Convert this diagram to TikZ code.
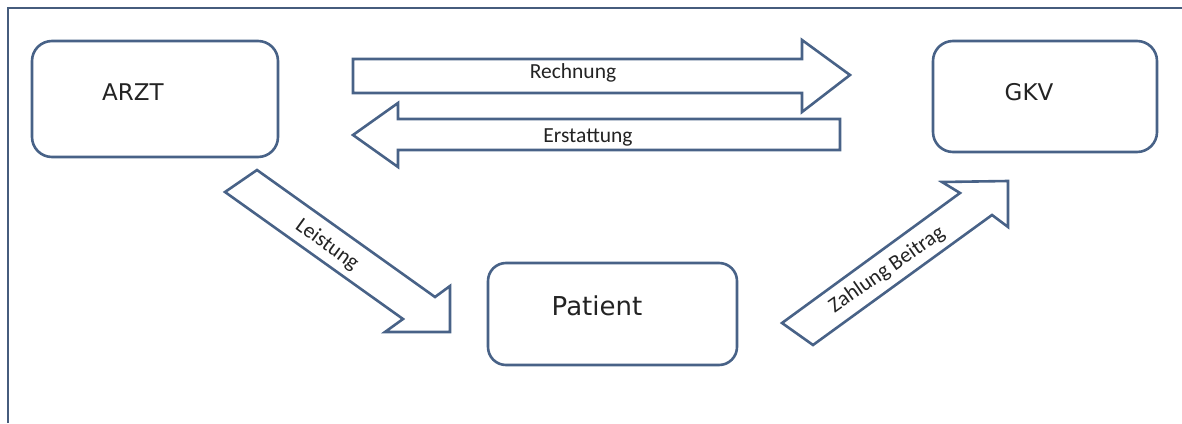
\documentclass[tikz,border=0pt]{standalone}
\usepackage{fontspec}
\setmainfont{DejaVu Sans}
\newfontfamily\calfont{Carlito}
\usetikzlibrary{positioning}
\definecolor{frameblue}{RGB}{70,92,125}
\definecolor{boxblue}{RGB}{72,98,135}
\definecolor{textdark}{RGB}{35,35,35}
\tikzset{
  party/.style={rectangle,rounded corners=20pt,draw=boxblue,
                line width=2.6pt,fill=white},
  partylabel/.style={font=\fontsize{23}{26}\selectfont,text=textdark,inner sep=0pt},
  blockarrow/.style={draw=boxblue,line width=2.6pt,fill=white,line join=miter},
  flowlabel/.style={font=\calfont\fontsize{21.5}{24}\selectfont,text=textdark,inner sep=0pt},
}
\begin{document}
\begin{tikzpicture}[x=1pt,y=-1pt]
  \useasboundingbox (0,0) rectangle (1182,423);
  % outer frame (only left and top edges visible)
  \draw[frameblue,line width=2.8pt] (8,423) -- (8,8) -- (1182,8);

  % the three parties
  \node[party,minimum width=246pt,minimum height=116pt] (arzt) at (155,99) {};
  \node[party,minimum width=224pt,minimum height=111pt] (gkv) at (1045,96.5) {};
  \node[party,rounded corners=18pt,minimum width=249pt,minimum height=102pt]
    (patient) at (612.5,314) {};
  \node[partylabel] (arzt label) at (133,92) {ARZT};
  \node[partylabel] (gkv label) at (1029,92) {GKV};
  \node[partylabel,font=\fontsize{26}{30}\selectfont] (patient label) at (597,306) {Patient};

  % block arrows
  \draw[blockarrow] (353,59) -- (802,59) -- (802,40) -- (850,75)
    -- (802,112) -- (802,93) -- (353,93) -- cycle;
  \draw[blockarrow] (840,119) -- (398,119) -- (398,103) -- (353,135)
    -- (398,167) -- (398,150) -- (840,150) -- cycle;
  \draw[blockarrow] (257,170) -- (435,297) -- (450,286) -- (450,332)
    -- (385,332) -- (403,319) -- (225,192) -- cycle;
  \draw[blockarrow] (813,345) -- (782,323) -- (960,193) -- (942,182)
    -- (1008,181) -- (1008,227) -- (992,215) -- cycle;

  % arrow labels
  \node[flowlabel,anchor=base] (rechnung) at (573,78) {Rechnung};
  \node[flowlabel,anchor=base] (erstattung) at (588,142) {Erstattung};
  \node[flowlabel,rotate=-36] (leistung) at (327,245) {Leistung};
  \node[flowlabel,rotate=35] (zahlung) at (887,270) {Zahlung Beitrag};
\end{tikzpicture}
\end{document}
